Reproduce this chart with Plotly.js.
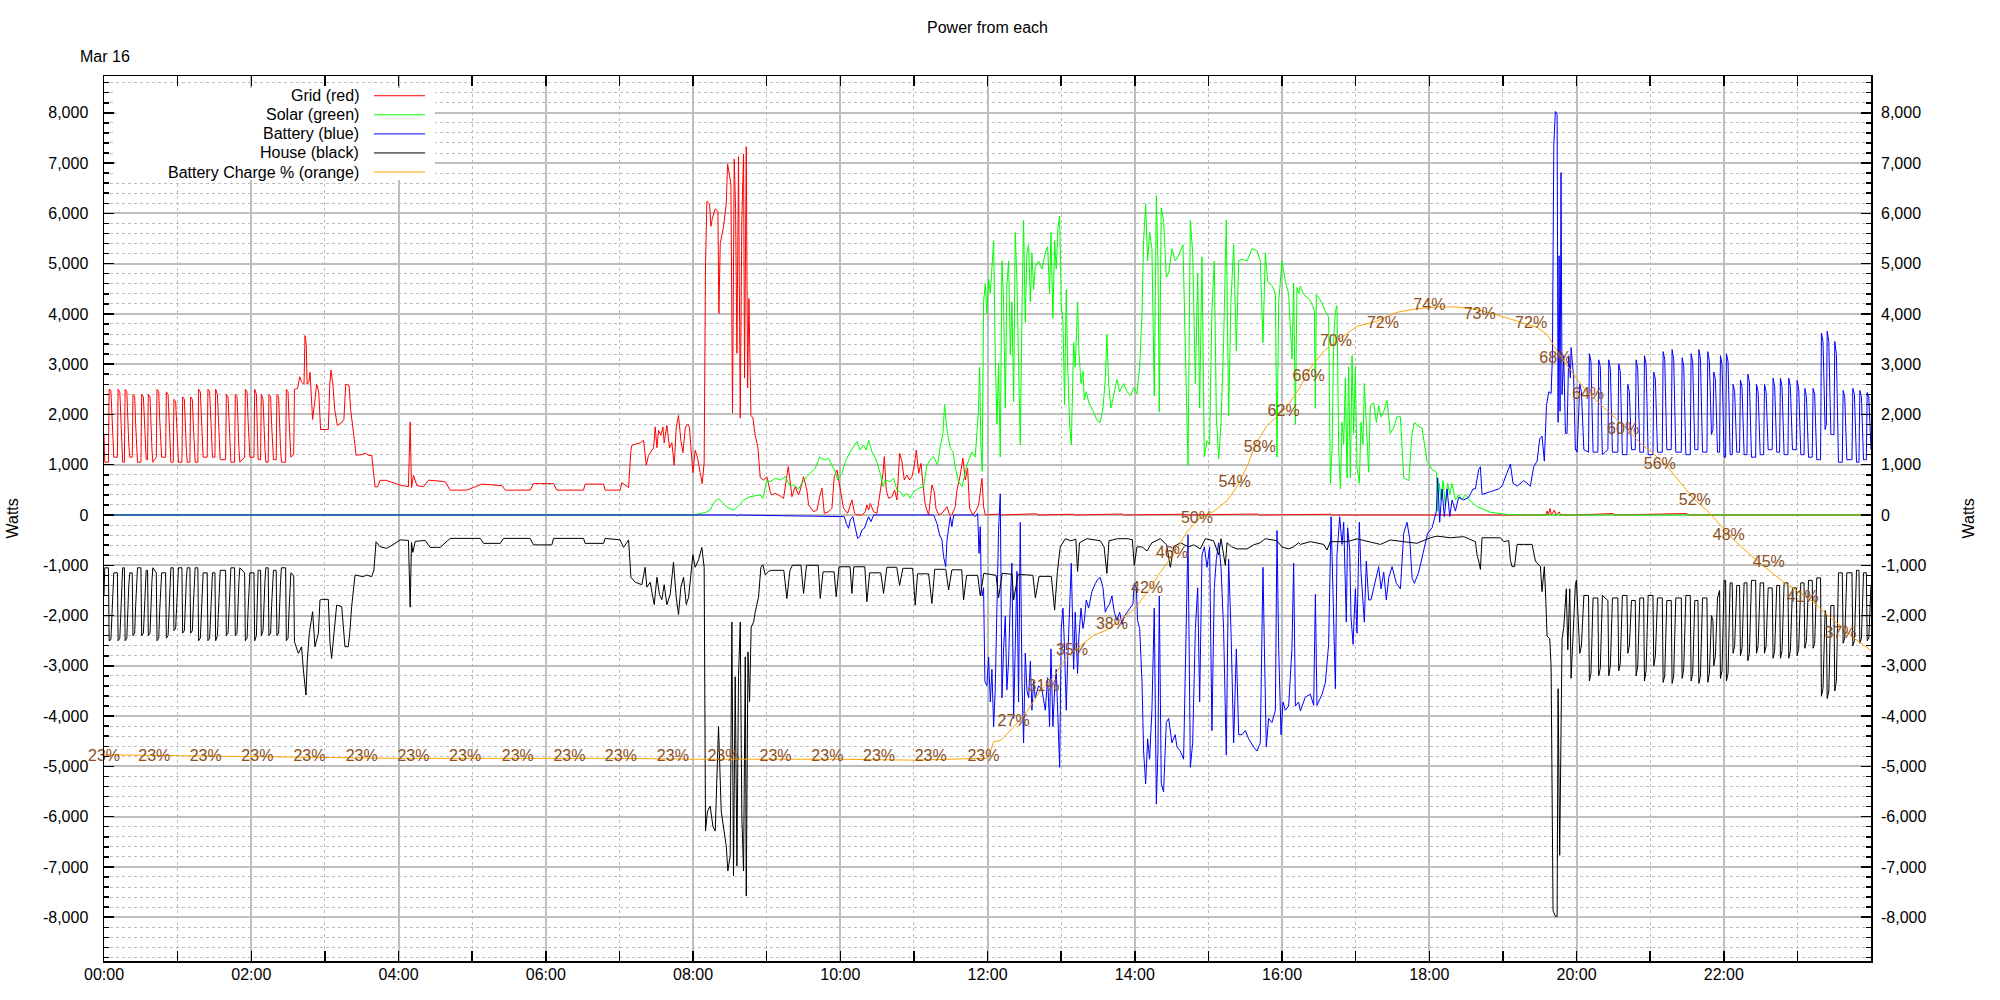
<!DOCTYPE html>
<html><head><meta charset="utf-8">
<script src="https://cdn.plot.ly/plotly-3.0.1.min.js"></script>
<style>html,body{margin:0;padding:0;background:#fff}#chart{width:2000px;height:1000px}</style>
</head><body><div id="chart"></div>
<script>
// ---------------- DATA (time in minutes after midnight, values in Watts / %) ----------------
const chartTitle = "Power from each";
const dayLabel = "Mar 16";
const axisTitle = "Watts";
const seriesNames = ["Grid (red)", "Solar (green)", "Battery (blue)", "House (black)", "Battery Charge % (orange)"];
const xTickLabels = ["00:00","02:00","04:00","06:00","08:00","10:00","12:00","14:00","16:00","18:00","20:00","22:00"];
const yTickVals = [-8000,-7000,-6000,-5000,-4000,-3000,-2000,-1000,0,1000,2000,3000,4000,5000,6000,7000,8000];
const yTickText = ["-8,000","-7,000","-6,000","-5,000","-4,000","-3,000","-2,000","-1,000","0","1,000","2,000","3,000","4,000","5,000","6,000","7,000","8,000"];

const gridPoints = [[0,1600],[0.6,1050],[3.6,1050],[4.2,2500],[5.6,2480],[6.4,1900],[7.2,1500],[8,1150],[10.9,1150],[11.5,2500],[12.9,2450],[13.7,1900],[14.5,1400],[15.2,1050],[16.6,1050],[17.2,2500],[18.6,2450],[19.4,1800],[20.2,1400],[21,1150],[23,1150],[23.6,2400],[25,2350],[25.8,1800],[26.6,1400],[27.3,1050],[30.1,1050],[30.7,2400],[32.1,2350],[32.9,1800],[33.7,1300],[34.4,1100],[35.5,1100],[36.1,2400],[37.5,2350],[38.3,1700],[39.1,1300],[39.8,1050],[42.6,1150],[43.2,2500],[44.6,2450],[45.4,1900],[46.2,1500],[47,1150],[50.2,1150],[50.8,2450],[52.2,2400],[53,1800],[53.8,1400],[54.5,1050],[56.4,1050],[57,2300],[58.4,2250],[59.2,1700],[60,1300],[60.7,1050],[63.5,1050],[64.1,2350],[65.5,2300],[66.3,1700],[67.1,1300],[67.8,1050],[70,1050],[70.6,2350],[72,2300],[72.8,1800],[73.6,1300],[74.3,1050],[76.5,1050],[77.1,2500],[78.5,2450],[79.3,1900],[80.1,1500],[80.8,1150],[84.1,1150],[84.7,2500],[86.1,2450],[86.9,1900],[87.7,1500],[88.4,1150],[90.4,1150],[91,2500],[92.4,2400],[93.2,1800],[94,1400],[94.7,1100],[99.1,1100],[99.7,2400],[101.1,2350],[101.9,1800],[102.7,1300],[103.4,1050],[106.4,1050],[107,2400],[108.4,2350],[109.2,1700],[110,1300],[110.7,1050],[114.6,1150],[115.2,2500],[116.6,2450],[117.4,1900],[118.2,1500],[118.9,1150],[122.2,1150],[122.8,2500],[124.2,2400],[125,1800],[125.6,1100],[127.6,1100],[128.2,2400],[129.6,2300],[130.4,1700],[131.2,1300],[131.9,1050],[133.8,1050],[134.4,2400],[135.8,2350],[136.6,1800],[137.4,1400],[138.1,1100],[140.3,1100],[140.9,2400],[142.3,2350],[143.1,1700],[143.9,1300],[144.6,1050],[148,1050],[148.6,2500],[150,2450],[150.8,1900],[151.6,1500],[152.3,1150],[154.6,1200],[155.2,2500],
[157.8,2520],[159.5,2750],[161,2650],[163,2600],[163.8,3570],[164.8,3400],[165.5,2600],[167,2650],[167.9,2840],[169,2300],[170,1900],[171.5,2200],[173.3,2600],[175,2450],[176.5,1700],[182.8,1700],[184,2600],[185,2880],[186.5,2600],[188,2100],[190.2,1780],[194,1850],[195.5,1900],[197,2600],[199.7,2580],[201,2100],[202.7,1800],[204,1500],[205.4,1190],[210,1200],[213,1230],[216,1180],[218.2,1190],[220.9,560],[223,560],[225,690],[230,690],[235,650],[241.4,594],[248.1,564],[249.5,1851],[250.6,545],[252.2,792],[255,584],[260.4,564],[264.4,693],[278,663],[282.1,495],[295.7,495],[307.9,614],[324.2,584],[327,495],[347.3,495],[350,624],[366.3,624],[369,495],[390.8,495],[392.1,614],[407.1,614],[408.4,495],[420.7,495],[422,644],[427.5,545],[429.4,1287],[430.2,1386],[437,1436],[439.7,1485],[441.9,990],[443.8,1188],[447.9,1337],[449.2,1752],[450.6,1337],[451.9,1683],[453.8,1584],[455.5,1752],[456.5,1436],[458.7,1782],[460.9,1337],[462.8,1436],[464.7,990],[466.3,1733],[468.2,1980],[470.1,1485],[471.8,1238],[473.7,1733],[475.6,1812],[477.2,1733],[478.3,1337],[479.9,842],[481.8,1287],[483.7,1139],[485.9,842],[487.5,624],[489.1,1040],[490.2,5000],[491.3,6237],[493.5,6188],[494.6,5742],[495.7,5890],[498.1,6089],[500.3,6039],[501.1,4010],[502.2,5396],[504.9,5742],[507.1,6188],[508.2,6980],[509.8,6683],[510.9,6584],[512.2,2030],[513.6,7079],[514.7,6089],[515.8,3218],[517.1,7128],[518.5,1931],[519.8,5890],[521.2,7178],[522,2723],[523.4,7326],[524.5,2525],[525.6,4307],[527.2,1980],[528.8,1931],[530.7,1584],[532.9,1337],[534.8,743],[537.5,693],[540.2,762],[542.9,465],
[544.3,398],[547,431],[551.1,378],[553.8,332],[556,696],[557.6,962],[559,696],[560.6,365],[563.3,564],[566,398],[567.4,497],[570.1,763],[572.8,497],[574.2,199],[578.3,66],[581,99],[583.2,365],[585.1,531],[587,33],[590.5,66],[593.2,133],[595.1,763],[597.3,895],[598.6,696],[600.6,365],[602.7,133],[606,33],[609.5,298],[611.7,33],[613.6,0],[617.7,0],[620.4,66],[621.7,199],[623.1,99],[624.5,232],[627.2,66],[629.9,33],[632.6,497],[634.8,829],[635.9,1161],[637.5,497],[639.4,332],[642.1,365],[644.3,497],[646.2,298],[648.4,1227],[650.3,1061],[652.2,696],[654.3,796],[656.5,696],[658.4,763],[660.3,962],[662,1293],[663.9,829],[665.8,1028],[667.9,497],[669.3,199],[672,0],[674.7,597],[676.6,464],[678,133],[680.2,0],[682.9,33],[687,166],[689.1,0],[691,0],[693.7,166],[695.1,497],[697.8,796],[700,1128],[701.9,696],[703.8,929],[705.4,133],[708.1,0],[710.9,99],[712.8,199],[714.1,497],[715.5,730],[716.8,166],[718.2,0],[730,20],[731,0],[760,25],[761,0],[790,15],[791,0],[830,20],[831,0],[880,15],[881,0],[940,20],[941,0],[1000,15],[1001,0],[1175,0],[1176,80],[1177,0],[1178.5,130],[1179.5,0],[1182,100],[1183,0],[1186,60],[1187,0],[1200,0],[1230,30],[1231,0],[1290,30],[1291,0],[1440,0]];

const solarPoints = [[0,0],[480,0],[485.9,30],[490,50],[494,99],[497,250],[500.8,327],[504,248],[508,150],[513,99],[518,200],[521.2,297],[526.6,366],[534.8,398],[537,332],[540.2,696],[543,663],[547,730],[551,696],[555.2,763],[559.3,577],[562,597],[566,511],[568.7,630],[572.8,763],[576.9,862],[579.6,929],[583.2,1148],[587.8,1094],[590.5,1128],[593.2,995],[595.9,862],[597.8,696],[601.4,829],[604.1,1061],[608.2,1260],[613.6,1459],[616.3,1293],[619,1393],[621.2,1293],[623.1,1492],[625.8,1260],[629.4,1094],[632.6,829],[634.8,564],[636.7,696],[640.8,663],[643.5,730],[646.2,497],[648.9,464],[651.6,365],[654.3,431],[657,332],[659.8,464],[663.9,531],[667.9,564],[670.7,995],[673.4,1094],[676.1,1161],[679.3,995],[681.5,1360],[683.7,1625],[685,2189],[687,1691],[689.7,1327],[691.8,1260],[693.7,962],[696.4,663],[699.2,564],[703.2,991],[707.3,1251],[710,1153],[712.7,2088],[713.6,2941],[714.6,1397],[715.7,869],[716.8,4240],[718.2,4606],[719.5,3997],[720.9,4687],[722.3,4403],[723.6,4890],[725,5459],[726.3,3184],[727.7,1803],[729,3022],[730.4,1153],[731.8,5052],[733.1,4240],[734.5,2128],[735.8,4565],[737.2,5052],[738.6,3184],[739.9,4240],[741.3,2250],[742.6,5621],[744,4646],[745.3,3022],[746.7,1397],[748.1,4078],[749.4,5865],[750.8,3834],[752.1,5215],[753.5,5377],[754.9,4240],[756.2,5215],[757.6,4484],[758.9,4931],[761.6,5052],[764.4,4890],[767.1,5215],[769,5337],[770.6,4403],[771.7,5621],[773.3,3915],[774.7,5459],[776,4890],[777.4,5702],[778.8,5946],[780.1,4159],[781.5,3834],[782.8,2209],[784.2,4484],[785.3,3022],[786.9,1803],[788.3,1397],[790.2,3428],[791.5,2941],[793.4,4240],[794.5,3265],[796.2,2616],[797.8,2859],[798.9,2291],[800.5,2453],[802.4,2250],[806.5,2047],[809.2,1885],[811.9,1844],[814.1,2128],[816,2697],[817.3,3590],[818.7,2616],[820.6,2128],[822.8,2372],[825.5,2697],[827.7,2453],[830.9,2616],[833.7,2453],[836.4,2372],[839.1,2534],[841.8,2413],[844,2941],[845.9,3997],[847.2,5459],[848.9,6190],[850.5,5052],[852.1,5621],[854,5296],[855.9,2372],[857.6,6352],[858.9,5052],[860,2047],[861.6,6108],[863.5,5865],[865.7,4728],[867.6,4809],[870.3,5296],[873,5052],[875.8,5174],[879.3,5377],[881.2,3428],[883.4,991],[885.3,5865],[887.2,5215],[889.4,2616],[891.3,4809],[892.9,2128],[894.8,5134],[896.7,1153],[898.9,1478],[901,1397],[902.9,4078],[904.8,5052],[906.5,1966],[908.4,1113],[910.3,1803],[912.4,3428],[914.6,5865],[916.5,1966],[918.4,4240],[920.6,5377],[922.8,3265],[924.7,5052],[927.4,5093],[931.5,5052],[935.5,5296],[939.6,5256],[942.3,5052],[944.5,3428],[946.4,5215],[948.3,4646],[951.8,4565],[954.6,4403],[955.9,1153],[957.3,4240],[960,5052],[962.7,4646],[965.4,4403],[968.1,3103],[969.5,4606],[970.9,1803],[972.2,4525],[973.5,4403],[975,4549],[977.7,4383],[983.1,4272],[986.4,4052],[987.2,2120],[988,4383],[991.3,4272],[995.3,4052],[998,3941],[999.4,629],[1000.8,1292],[1002.1,3500],[1003.5,4052],[1004.8,4162],[1006.2,1292],[1007.6,519],[1008.9,1844],[1010.3,1402],[1011.6,2727],[1013,740],[1014.3,2948],[1015.7,740],[1017.1,3168],[1018.4,1623],[1019.8,2948],[1021.1,960],[1023,629],[1024.4,1844],[1026,1402],[1027.1,2616],[1028.7,1844],[1030.6,850],[1032,2175],[1034.7,2230],[1036.9,1844],[1038.8,2175],[1040.7,1954],[1042.9,2064],[1045.6,2285],[1048.3,1623],[1051,1733],[1053.7,1954],[1056.5,1954],[1059.2,740],[1063.3,684],[1066,1623],[1067.9,1844],[1070,1788],[1074.1,1733],[1078.2,1071],[1082.3,905],[1085.8,850],[1086.9,77],[1088.3,629],[1089.6,298],[1091.2,684],[1093.1,188],[1095,629],[1096.7,408],[1098.6,629],[1101.3,298],[1104,408],[1106.7,298],[1109.4,408],[1113.5,276],[1119,166],[1129.8,55],[1143.4,11],[1160,0],[1440,0]];

const batteryPoints = [[0,0],[240,0],[241,-15],[242,0],[515,0],[516,-20],[517,0],[603.3,-33],[604.9,-166],[606.8,-265],[608.2,-100],[610.3,-33],[612.2,-232],[614.1,-464],[615.8,-431],[617.7,-298],[619.6,-265],[621.2,-166],[623.1,-33],[625,-133],[627.2,0],[676.1,0],[678.8,-166],[681,-398],[682.9,-497],[684.2,-829],[685.9,-1028],[687,-497],[688.3,-232],[689.7,-33],[691,-232],[692.4,0],[708.7,0],[710,-33],[712,33],[713.1,-763],[714.1,-232],[714.9,-1426],[715.7,-1608],[716.8,-1446],[717.9,-3314],[719.5,-3395],[720.9,-2827],[722.3,-3720],[723.6,-3070],[725,-4208],[726.3,-3477],[727.7,-1933],[729,-309],[730.4,422],[731.8,-3639],[733.1,-2664],[734.5,-2015],[735.8,-3477],[737.2,-2908],[738.6,-1690],[739.9,-958],[741.3,-4045],[742.6,-2258],[744,-1121],[745.3,-3720],[746.7,-146],[748.1,-3314],[749.4,-4533],[750.8,-2746],[752.1,-3477],[753.5,-3639],[754.9,-2908],[756.2,-3883],[757.6,-3314],[758.9,-3639],[761.6,-3395],[764.4,-3477],[767.1,-3883],[769,-3233],[770.6,-4208],[771.7,-2664],[773.3,-4208],[774.7,-3477],[776,-3070],[777.4,-4045],[778.8,-5020],[780.1,-2258],[781.5,-1852],[782.8,-2664],[784.2,-3883],[785.3,-2908],[786.9,-1852],[788.3,-958],[790.2,-3070],[791.5,-1933],[793.4,-3152],[794.5,-2421],[796.2,-1852],[797.8,-2258],[798.9,-2096],[800.5,-1690],[802.4,-1852],[805.1,-1527],[807.8,-1365],[809.7,-1283],[811.9,-1243],[814.1,-1446],[816,-1933],[817.3,-1852],[819.5,-1771],[821.4,-1608],[823.3,-1933],[825.5,-2096],[827.7,-1933],[829.6,-2177],[831.5,-2015],[833.7,-1933],[836.4,-1852],[838.5,-1771],[839.6,-1365],[841.3,-1446],[842.3,-2096],[844,-2258],[845.9,-3314],[847.2,-4695],[848.9,-5345],[850.5,-4451],[852.1,-4858],[854,-3883],[855.9,-1852],[857.6,-5751],[858.9,-4695],[860,-1608],[861.6,-5345],[863.5,-5508],[865.7,-4127],[867.6,-4045],[870.3,-4533],[873,-4370],[874.4,-4614],[877.1,-4695],[879.8,-4858],[881.2,-3070],[883.4,-390],[885.3,-5020],[887.2,-4533],[889.4,-2258],[891.3,-1446],[892.9,-3720],[894.8,-796],[896.7,-634],[898.9,-1040],[901,-634],[902.9,-4289],[904.8,-1446],[906.5,-877],[908.4,-552],[910.3,-1040],[912.4,-2258],[914.6,-4776],[916.5,-877],[918.4,-2258],[920.6,-4533],[922.8,-2664],[924.7,-4370],[927.4,-4370],[930.1,-4289],[932.8,-4451],[936.9,-4614],[939.6,-4695],[942.3,-4533],[944.5,-1040],[945.6,-2583],[947.2,-4614],[949.1,-4045],[951.8,-4127],[954.6,-3883],[955.9,-309],[957.3,-2664],[959.2,-4370],[960.8,-3720],[962.7,-3883],[965.4,-3802],[968.1,-2664],[969.5,-958],[970.9,-3802],[973.5,-3720],[975,-3897],[979,-3621],[983.1,-3566],[985.8,-3787],[987.2,-1579],[988.5,-3787],[992.6,-3566],[995.3,-3345],[998,-2572],[1000,-33],[1001.6,-1468],[1003.5,-3456],[1004.8,-806],[1007,-33],[1008.9,-585],[1010.3,-144],[1012.4,-2131],[1013.5,-254],[1015.2,-696],[1016.2,-2020],[1017.9,-2572],[1019.8,-1468],[1021.1,-2352],[1023,-144],[1024.4,-1137],[1026,-1800],[1027.1,-2131],[1028.7,-916],[1030.6,-1689],[1032.5,-1689],[1034.7,-1468],[1036.9,-1248],[1038.8,-1027],[1040.7,-1468],[1042.9,-1137],[1045,-1689],[1047,-1248],[1049.7,-1027],[1053.2,-1358],[1056.5,-1468],[1059.2,-364],[1061.9,-144],[1064.1,-475],[1066,-1248],[1067.9,-1358],[1071.4,-1137],[1075.5,-696],[1078.7,-364],[1082.3,-254],[1085.8,77],[1086.9,740],[1088.5,-144],[1090.4,519],[1092.3,-33],[1094.5,519],[1096.7,-33],[1098.6,298],[1101.3,77],[1104,353],[1108.1,298],[1112.2,353],[1115.7,519],[1117.6,519],[1120.3,905],[1121.7,960],[1123,408],[1129.8,464],[1136.6,519],[1139.3,574],[1146.1,1016],[1148.3,629],[1151.6,574],[1157,684],[1162.4,574],[1165.1,960],[1167.9,1071],[1170,1512],[1171.9,1568],[1173.8,1071],[1175.5,2175],[1177.4,2451],[1179.3,2418],[1180.4,3168],[1181.5,7364],[1182.8,8026],[1184.2,7971],[1185,1844],[1185.8,5156],[1186.6,2064],[1187.4,6812],[1188.2,2396],[1189.6,3168],[1191,1623],[1192.3,1623],[1193.6,3168],[1195,2727],[1195.6,3330],[1197.7,2727],[1199.1,1292],[1199.9,1300],
[1200.5,1250],[1202.7,2600],[1204,2450],[1205,1800],[1206,1300],[1209.8,1250],[1210.5,3209],[1211.8,3050],[1212.7,2200],[1213.5,1250],[1217.4,1250],[1218.1,3087],[1219.4,2950],[1220.3,2100],[1221.1,1200],[1225.6,1300],[1226.3,3087],[1227.6,2900],[1228.5,2100],[1229.3,1250],[1233.7,1250],[1234.4,3006],[1235.7,2850],[1236.6,2000],[1237.4,1200],[1241.1,1200],[1241.8,2600],[1243.1,2450],[1244,1800],[1244.8,1300],[1247.9,1300],[1248.6,3087],[1249.9,2900],[1250.8,2100],[1251.6,1250],[1254.7,1250],[1255.4,3168],[1256.7,3000],[1257.6,2100],[1258.4,1200],[1262.3,1200],[1263,2843],[1264.3,2700],[1265.2,1900],[1266,1250],[1269.9,1250],[1270.6,3249],[1271.9,3100],[1272.8,2200],[1273.6,1300],[1277.2,1300],[1277.9,3290],[1279.2,3100],[1280.1,2200],[1280.9,1250],[1285.4,1250],[1286.1,3127],[1287.4,2950],[1288.3,2100],[1289.1,1200],[1292.7,1200],[1293.4,3209],[1294.7,3050],[1295.6,2200],[1296.4,1300],[1299,1300],[1299.7,3290],[1301,3100],[1301.9,2200],[1302.7,1250],[1306.3,1250],[1307,3249],[1308.3,3050],[1309.2,2100],[1310,1600],[1311.2,1700],[1311.9,2843],[1313.2,2700],[1314.1,1900],[1314.9,1250],[1316.6,1250],[1317.3,3168],[1318.6,3000],[1319.5,2100],[1320.3,1150],[1321.5,1150],[1322.2,3209],[1323.5,3050],[1324.4,2100],[1325.2,1200],[1326.9,1200],[1327.6,2600],[1328.9,2450],[1329.8,1800],[1330.6,1250],[1332.9,1250],[1333.6,2680],[1334.9,2550],[1335.8,1800],[1336.6,1200],[1338.9,1200],[1339.6,2800],[1340.9,2650],[1341.8,1900],[1342.6,1150],[1346,1150],[1346.7,2600],[1348,2450],[1348.9,1800],[1349.7,1200],[1352.5,1200],[1353.2,2600],[1354.5,2450],[1355.4,1800],[1356.2,1300],[1359.5,1300],[1360.2,2721],[1361.5,2550],[1362.4,1850],[1363.2,1250],[1365.5,1250],[1366.2,2721],[1367.5,2550],[1368.4,1850],[1369.2,1200],[1372.3,1200],[1373,2721],[1374.3,2550],[1375.2,1850],[1376,1300],[1379.1,1300],[1379.8,2680],[1381.1,2500],[1382,1800],[1382.8,1200],[1385.4,1200],[1386.1,2518],[1387.4,2350],[1388.3,1700],[1389.1,1150],[1392.1,1150],[1392.8,2518],[1394.1,2400],[1395,1800],[1395.8,1100],[1398.9,1100],[1399.6,3615],[1400.9,3450],[1401.8,2400],[1402.6,1700],[1403.6,1800],[1404.3,3655],[1405.6,3450],[1406.5,2300],[1407.3,1600],[1409.8,1600],[1410.5,3452],[1411.8,3200],[1412.7,2200],[1413.5,1050],[1416.6,1050],[1417.3,2478],[1418.6,2350],[1419.5,1700],[1420.3,1100],[1424.5,1100],[1425.2,2518],[1426.5,2400],[1427.4,1700],[1428.2,1050],[1430.2,1050],[1430.9,2478],[1432.2,2350],[1433.1,1700],[1433.9,1100],[1436.2,1100],[1436.9,2437],[1438.2,2350],[1439.1,1700],[1440,1300]];

const housePoints = [[0,-1600],[0.6,-1050],[3.6,-1050],[4.2,-2500],[5.6,-2480],[6.4,-1900],[7.2,-1500],[8,-1150],[10.9,-1150],[11.5,-2500],[12.9,-2450],[13.7,-1900],[14.5,-1400],[15.2,-1050],[16.6,-1050],[17.2,-2500],[18.6,-2450],[19.4,-1800],[20.2,-1400],[21,-1150],[23,-1150],[23.6,-2400],[25,-2350],[25.8,-1800],[26.6,-1400],[27.3,-1050],[30.1,-1050],[30.7,-2400],[32.1,-2350],[32.9,-1800],[33.7,-1300],[34.4,-1100],[35.5,-1100],[36.1,-2400],[37.5,-2350],[38.3,-1700],[39.1,-1300],[39.8,-1050],[42.6,-1150],[43.2,-2500],[44.6,-2450],[45.4,-1900],[46.2,-1500],[47,-1150],[50.2,-1150],[50.8,-2450],[52.2,-2400],[53,-1800],[53.8,-1400],[54.5,-1050],[56.4,-1050],[57,-2300],[58.4,-2250],[59.2,-1700],[60,-1300],[60.7,-1050],[63.5,-1050],[64.1,-2350],[65.5,-2300],[66.3,-1700],[67.1,-1300],[67.8,-1050],[70,-1050],[70.6,-2350],[72,-2300],[72.8,-1800],[73.6,-1300],[74.3,-1050],[76.5,-1050],[77.1,-2500],[78.5,-2450],[79.3,-1900],[80.1,-1500],[80.8,-1150],[84.1,-1150],[84.7,-2500],[86.1,-2450],[86.9,-1900],[87.7,-1500],[88.4,-1150],[90.4,-1150],[91,-2500],[92.4,-2400],[93.2,-1800],[94,-1400],[94.7,-1100],[99.1,-1100],[99.7,-2400],[101.1,-2350],[101.9,-1800],[102.7,-1300],[103.4,-1050],[106.4,-1050],[107,-2400],[108.4,-2350],[109.2,-1700],[110,-1300],[110.7,-1050],[114.6,-1150],[115.2,-2500],[116.6,-2450],[117.4,-1900],[118.2,-1500],[118.9,-1150],[122.2,-1150],[122.8,-2500],[124.2,-2400],[125,-1800],[125.6,-1100],[127.6,-1100],[128.2,-2400],[129.6,-2300],[130.4,-1700],[131.2,-1300],[131.9,-1050],[133.8,-1050],[134.4,-2400],[135.8,-2350],[136.6,-1800],[137.4,-1400],[138.1,-1100],[140.3,-1100],[140.9,-2400],[142.3,-2350],[143.1,-1700],[143.9,-1300],[144.6,-1050],[148,-1050],[148.6,-2500],[150,-2450],[150.8,-1900],[151.6,-1500],[152.3,-1150],[154.6,-1200],[155.2,-2520],
[158.4,-2753],[161,-2620],[162.5,-3084],[164.6,-3582],[165.7,-2885],[167.3,-2355],[170,-1924],[171.9,-2620],[174.7,-2355],[176,-1691],[177.4,-1678],[182.8,-1678],[184.2,-2554],[185.5,-2852],[186.9,-2487],[189.6,-1791],[193.7,-1824],[196.4,-2620],[199.1,-2620],[200.5,-2288],[201.8,-1824],[204.6,-1194],[211.4,-1227],[214,-1194],[218.1,-1227],[220,-1094],[221.7,-531],[224.9,-630],[230,-663],[233.2,-624],[241.4,-495],[248.1,-505],[249.5,-1832],[250.6,-545],[251.7,-743],[253.6,-525],[261.7,-505],[265.8,-644],[274,-644],[282.1,-465],[306.6,-465],[309.3,-564],[322.9,-564],[325.6,-465],[347.3,-465],[350,-594],[365,-594],[366.3,-465],[390.8,-465],[392.1,-564],[407.1,-564],[408.4,-465],[420.7,-495],[423.4,-644],[427.5,-495],[429.4,-1238],[432.9,-1337],[438.3,-1386],[441,-1040],[442.4,-1436],[445.1,-1337],[448.4,-1782],[450.6,-1238],[452.7,-1584],[454.6,-1683],[456.5,-1386],[458.7,-1782],[461.4,-1584],[464.1,-941],[466.3,-1634],[468.2,-1980],[470.1,-1436],[472.3,-1238],[474.5,-1782],[476.4,-1634],[478.3,-1238],[479.9,-792],[481.8,-1040],[484.5,-891],[487.2,-644],[489.1,-1040],[490.2,-6287],[491.8,-5891],[494,-5792],[496.2,-6188],[498.1,-6287],[500.8,-4208],[503,-5891],[504.9,-6188],[507.1,-6584],[508.4,-7079],[510.3,-6782],[511.7,-2129],[513,-7178],[514.4,-3218],[515.8,-6980],[517.1,-3218],[518.5,-2129],[519.8,-5990],[521.2,-7079],[522.6,-2822],[523.4,-7574],[524.8,-2723],[526.1,-3713],[527.4,-2228],[529.4,-2129],[530.7,-1931],[533.4,-1634],[535.3,-1040],[536.9,-990],[538.9,-1188],[541.6,-1119],
[544,-1100],[554,-1100],[556.5,-1660],[559,-1100],[561,-1000],[568,-1000],[570.1,-1560],[572.5,-1000],[582,-1000],[583.7,-1660],[586,-1130],[595,-1130],[596.7,-1625],[599,-1030],[608,-1030],[609.5,-1560],[611,-1030],[620,-1030],[621.7,-1725],[624,-1150],[633,-1150],[635.3,-1560],[638,-1040],[646,-1040],[648.4,-1400],[651,-1060],[659,-1060],[661.1,-1790],[663,-1170],[672,-1170],[674.7,-1760],[677,-1080],[686,-1080],[688.3,-1490],[691,-1090],[699,-1090],[700.5,-1690],[703,-1200],[712,-1200],[714.1,-1608],[717,-1160],[727,-1200],[729,-1649],[732,-1160],[740,-1180],[741.3,-1690],[745,-1180],[757,-1200],[759,-1649],[762,-1220],[772,-1220],[774.7,-1893],[777,-1121],[779.3,-634],[783.4,-471],[788,-512],[792,-480],[793.4,-1121],[795,-552],[801,-471],[811.9,-512],[815,-634],[817.3,-1162],[819,-512],[826,-471],[833.7,-471],[838,-490],[839.6,-999],[841.8,-634],[845.9,-634],[850,-715],[854,-552],[860.8,-471],[866,-593],[869,-1040],[871.7,-634],[877.1,-552],[883.9,-634],[888,-593],[893.4,-674],[897.5,-471],[904.3,-512],[907,-700],[908.4,-796],[910.3,-471],[913.8,-999],[915.2,-552],[919,-634],[923.3,-674],[931.5,-674],[937,-593],[942.3,-552],[946.4,-471],[955.9,-512],[959.9,-634],[965.4,-674],[969.5,-634],[973.5,-552],[975,-585],[983.1,-530],[994,-585],[996.7,-696],[999.4,-530],[1013,-530],[1021.1,-475],[1032,-530],[1040.2,-585],[1048.3,-497],[1059.2,-530],[1070,-563],[1080.9,-453],[1086.4,-420],[1097.2,-453],[1108.1,-431],[1117.6,-530],[1119,-800],[1120.3,-916],[1121.7,-1082],[1123,-453],[1129.8,-453],[1138,-453],[1140.7,-530],[1144.8,-510],[1146.1,-900],[1147.5,-1027],[1149.5,-1027],[1151.6,-585],[1157,-585],[1163.8,-585],[1166.5,-916],[1170.6,-1027],[1171.9,-1524],[1173.8,-1027],[1175,-1700],[1176,-2407],[1178.2,-2462],[1179.3,-3014],[1180.9,-7872],[1182.8,-7982],[1184.2,-7982],[1185,-3456],[1186.3,-6768],[1186.9,-5222],[1187.4,-4565],[1188.2,-2462],[1189.6,-2241],[1191.7,-1468],[1192.9,-2683],[1194.5,-1468],[1195.6,-3249],[1197.7,-2241],[1199.1,-1381],[1199.9,-1300],
[1200.5,-1600],[1202.7,-2750],[1204,-2600],[1205,-2000],[1206,-1600],[1209.8,-1600],[1210.5,-3300],[1211.8,-3150],[1212.7,-2400],[1213.5,-1650],[1217.4,-1650],[1218.1,-3200],[1219.4,-3050],[1220.3,-2300],[1221.1,-1600],[1225.6,-1700],[1226.3,-3200],[1227.6,-3000],[1228.5,-2300],[1229.3,-1650],[1233.7,-1650],[1234.4,-3100],[1235.7,-2950],[1236.6,-2200],[1237.4,-1600],[1241.1,-1600],[1241.8,-2750],[1243.1,-2600],[1244,-2000],[1244.8,-1700],[1247.9,-1700],[1248.6,-3200],[1249.9,-3000],[1250.8,-2300],[1251.6,-1650],[1254.7,-1650],[1255.4,-3300],[1256.7,-3100],[1257.6,-2300],[1258.4,-1600],[1262.3,-1600],[1263,-3000],[1264.3,-2800],[1265.2,-2100],[1266,-1650],[1269.9,-1650],[1270.6,-3330],[1271.9,-3200],[1272.8,-2400],[1273.6,-1700],[1277.2,-1700],[1277.9,-3350],[1279.2,-3200],[1280.1,-2400],[1280.9,-1650],[1285.4,-1650],[1286.1,-3250],[1287.4,-3050],[1288.3,-2300],[1289.1,-1600],[1292.7,-1600],[1293.4,-3300],[1294.7,-3150],[1295.6,-2400],[1296.4,-1700],[1299,-1700],[1299.7,-3350],[1301,-3200],[1301.9,-2400],[1302.7,-1650],[1306.3,-1650],[1307,-3330],[1308.3,-3150],[1309.2,-2300],[1310,-2000],[1311.2,-2100],[1311.9,-3000],[1313.2,-2800],[1314.1,-2100],[1314.9,-1650],[1316.6,-1500],[1317.3,-3250],[1318.6,-3100],[1319.5,-2300],[1320.3,-1300],[1321.5,-1300],[1322.2,-3300],[1323.5,-3150],[1324.4,-2300],[1325.2,-1350],[1326.9,-1350],[1327.6,-2750],[1328.9,-2600],[1329.8,-1950],[1330.6,-1400],[1332.9,-1400],[1333.6,-2800],[1334.9,-2650],[1335.8,-1950],[1336.6,-1350],[1338.9,-1350],[1339.6,-2900],[1340.9,-2750],[1341.8,-2050],[1342.6,-1300],[1346,-1300],[1346.7,-2750],[1348,-2600],[1348.9,-1950],[1349.7,-1350],[1352.5,-1350],[1353.2,-2750],[1354.5,-2600],[1355.4,-1950],[1356.2,-1450],[1359.5,-1450],[1360.2,-2850],[1361.5,-2700],[1362.4,-2000],[1363.2,-1400],[1365.5,-1400],[1366.2,-2850],[1367.5,-2700],[1368.4,-2000],[1369.2,-1350],[1372.3,-1350],[1373,-2850],[1374.3,-2700],[1375.2,-2000],[1376,-1450],[1379.1,-1450],[1379.8,-2800],[1381.1,-2650],[1382,-1950],[1382.8,-1350],[1385.4,-1350],[1386.1,-2650],[1387.4,-2500],[1388.3,-1850],[1389.1,-1300],[1392.1,-1300],[1392.8,-2650],[1394.1,-2550],[1395,-1950],[1395.8,-1250],[1398.9,-1250],[1399.6,-3600],[1400.9,-3450],[1401.8,-2600],[1402.6,-1900],[1403.6,-2000],[1404.3,-3650],[1405.6,-3500],[1406.5,-2500],[1407.3,-1800],[1409.8,-1800],[1410.5,-3500],[1411.8,-3300],[1412.7,-2300],[1413.5,-1150],[1416.6,-1150],[1417.3,-2550],[1418.6,-2450],[1419.5,-1800],[1420.3,-1150],[1424.5,-1150],[1425.2,-2600],[1426.5,-2500],[1427.4,-1800],[1428.2,-1100],[1430.2,-1100],[1430.9,-2550],[1432.2,-2450],[1433.1,-1800],[1433.9,-1150],[1436.2,-1150],[1436.9,-2500],[1438.2,-2450],[1439.1,-1800],[1440,-1400]];

const chargePoints = [[0,23.3],[60,23.2],[120,23.1],[180,23],[240,22.9],[300,22.9],[360,22.9],[420,22.9],[480,22.8],[540,22.8],[600,22.8],[660,22.7],[700,22.8],[719.5,22.9],[722,23.5],[725,24.8],[730.4,24.9],[735.8,25.6],[741.3,26.4],[752.1,28.2],[763,30.5],[773.9,32.1],[784.7,34.4],[795.6,35.6],[806.5,36.8],[817.3,37.4],[828.2,38.6],[839.1,39.7],[850,41.6],[860.8,43.9],[871.7,46],[882.6,48.5],[893.4,50.1],[904.3,50.8],[915.2,52],[923.3,53.6],[931.5,55.9],[939.6,58.7],[947.8,60.5],[955.9,61.5],[964.1,62.6],[975,64.9],[983.1,67],[994,68.9],[1004.8,70.1],[1021.1,71.7],[1037.4,72.3],[1053.7,73.3],[1070,73.7],[1086.4,73.9],[1102.7,73.9],[1119,73.6],[1135.3,73],[1151.6,72.3],[1167.9,71.6],[1176,70.8],[1184.2,68.9],[1192.3,67.3],[1200.5,65.7],[1208.6,64.3],[1219.5,62.9],[1230.4,61.5],[1241.2,60.1],[1252.1,58.5],[1263,57.3],[1273.8,55.9],[1284.7,54.1],[1295.6,52.2],[1306.5,50.9],[1317.3,49.2],[1328.2,47.6],[1339.1,46.2],[1349.9,44.9],[1360.8,43.7],[1371.7,42.5],[1382.5,41.6],[1393.4,40.5],[1404.3,39.1],[1415.1,37.9],[1426,36.5],[1440,35.1]];

const labelMin = [0,41,82.9,125,167.4,210,252.2,294.3,337.2,379.3,421.2,463.6,504.8,547.3,589.5,631.6,673.7,716.7,741.3,765.7,788.8,821.4,850,870.3,890.7,921.4,941.8,961.3,981.7,1004,1042.3,1080.1,1121.1,1163,1182.8,1209.4,1238,1267.9,1296.4,1324.1,1356.7,1384.4,1415.1];
const labelPct = [23,23,23,23,23,23,23,23,23,23,23,23,23,23,23,23,23,23,27,31,35,38,42,46,50,54,58,62,66,70,72,74,73,72,68,64,60,56,52,48,45,41,37];

// ---------------- RENDER ----------------
const FONT = "Liberation Sans, Arial, sans-serif";
const dayStart = Date.UTC(2024, 2, 16);
const MIN = 60000, HOUR = 3600000;
const tx = m => dayStart + m * MIN;
const colors = ["#ff0000", "#00ff00", "#0000ff", "#000000", "#ffa500"];
const labelColor = "#8b4e1c";

function lineTrace(points, i, yaxis) {
  return {type: "scatter", mode: "lines", name: seriesNames[i],
    x: points.map(p => tx(p[0])), y: points.map(p => p[1]),
    yaxis: yaxis || "y", line: {color: colors[i], width: 1}, showlegend: false, hoverinfo: "skip"};
}
const traces = [
  lineTrace(gridPoints, 0), lineTrace(solarPoints, 1), lineTrace(batteryPoints, 2), lineTrace(housePoints, 3),
  lineTrace(chargePoints, 4, "y3"),
  {type: "scatter", mode: "text", x: labelMin.map(tx), y: labelPct, yaxis: "y3",
   text: labelPct.map(v => v + "%"), textposition: "middle center",
   textfont: {family: FONT, size: 16, color: labelColor}, showlegend: false, hoverinfo: "skip", cliponaxis: false},
  {type: "scatter", mode: "lines", x: [], y: [], yaxis: "y2", showlegend: false, hoverinfo: "skip"}
];

const Y_RANGE = [-8871, 8732];
const gridCol = "#bebebe";
const tickFont = {family: FONT, size: 16, color: "#000"};
const yCommon = {tickmode: "array", tickvals: yTickVals, ticktext: yTickText, range: Y_RANGE, tickfont: tickFont, zeroline: false, ticklabelstandoff: 11};

const layout = {
  width: 2000, height: 1000, paper_bgcolor: "#fff", plot_bgcolor: "#fff",
  margin: {l: 104, r: 129, t: 76, b: 39, pad: 0},
  showlegend: false,
  title: {text: chartTitle, x: 0.5, xref: "paper", xanchor: "center", y: 0.973, yref: "container", yanchor: "middle", font: {family: FONT, size: 16, color: "#000"}},
  xaxis: {type: "date", range: [tx(0), tx(1440)], tickmode: "array", tickvals: xTickLabels.map((s, i) => dayStart + 2 * i * HOUR), ticktext: xTickLabels,
    ticks: "inside", ticklen: 10, tickwidth: 1.5, tickcolor: "#000", showline: true, linecolor: "#000", linewidth: 1.5, mirror: "allticks",
    showgrid: true, gridcolor: gridCol, gridwidth: 2, zeroline: false, tickfont: tickFont, ticklabelstandoff: -2,
    minor: {tickmode: "linear", tick0: dayStart, dtick: HOUR, ticks: "inside", ticklen: 5, tickwidth: 1.5, tickcolor: "#000", showgrid: true, gridcolor: gridCol, gridwidth: 1, griddash: "3px,3px"}},
  yaxis: Object.assign({}, yCommon, {side: "left", ticks: "inside", ticklen: 10, tickwidth: 1.5, tickcolor: "#000", showline: true, linecolor: "#000", linewidth: 1.5, mirror: "allticks",
    showgrid: true, gridcolor: gridCol, gridwidth: 2,
    minor: {tickmode: "linear", tick0: 0, dtick: 200, ticks: "inside", ticklen: 5, tickwidth: 1.5, tickcolor: "#000", showgrid: true, gridcolor: gridCol, gridwidth: 1, griddash: "3px,3px"}}),
  yaxis2: Object.assign({}, yCommon, {overlaying: "y", side: "right", ticks: "", showline: false, showgrid: false, ticklabelstandoff: 9}),
  yaxis3: {overlaying: "y", range: [0, 100], visible: false, showgrid: false, zeroline: false},
  annotations: [], shapes: []
};

layout.annotations.push({text: dayLabel, xref: "paper", yref: "paper", x: -0.0147, y: 1.0215, xanchor: "left", yanchor: "middle", showarrow: false, font: {family: FONT, size: 16, color: "#000"}});
layout.annotations.push({text: axisTitle, xref: "paper", yref: "paper", x: -0.0515, y: 0.5, xanchor: "center", yanchor: "middle", textangle: -90, showarrow: false, font: {family: FONT, size: 16, color: "#000"}});
layout.annotations.push({text: axisTitle, xref: "paper", yref: "paper", x: 1.0549, y: 0.5, xanchor: "center", yanchor: "middle", textangle: -90, showarrow: false, font: {family: FONT, size: 16, color: "#000"}});

// legend (text right-aligned with sample line to its right); opaque key box hides the grid behind it
layout.shapes.push({type: "rect", xref: "paper", yref: "paper", x0: 0.0065, x1: 0.1873, y0: 0.8825, y1: 0.9864, fillcolor: "#fff", line: {width: 0}, layer: "above"});
seriesNames.forEach((name, i) => {
  const yy = 0.9777 - i * 0.02155;
  layout.annotations.push({text: name, xref: "paper", yref: "paper", x: 0.1455, y: yy, xanchor: "right", yanchor: "middle", showarrow: false, font: {family: FONT, size: 16, color: "#000"}});
  layout.shapes.push({type: "line", xref: "paper", yref: "paper", x0: 0.1528, x1: 0.1817, y0: yy, y1: yy, line: {color: colors[i], width: 1}, layer: "above"});
});

Plotly.newPlot("chart", traces, layout, {displayModeBar: false, staticPlot: true});
</script>
</body></html>
